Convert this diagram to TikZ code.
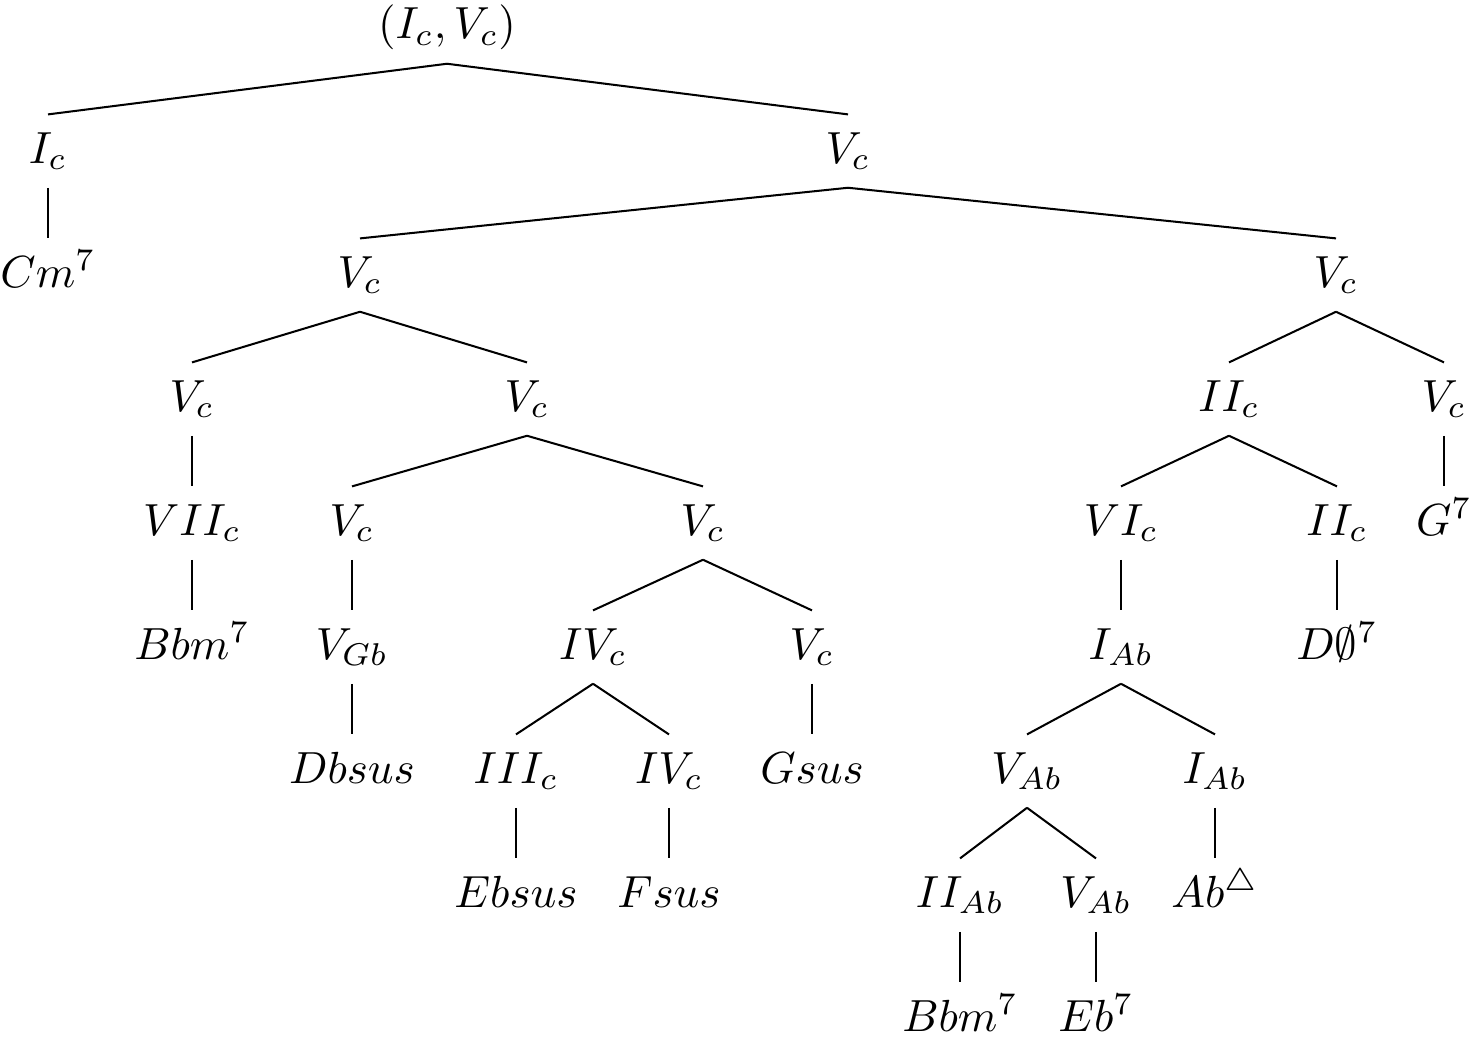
\documentclass[tikz,border=0pt]{standalone}
\begin{document}
\begin{tikzpicture}[x=0.2222pt,y=-0.2222pt,
  lbl/.style={anchor=base,inner sep=0pt,text height=10.6pt,text depth=5.3pt},
  branch/.style={line width=0.45pt}]
\useasboundingbox (0,0) rectangle (1471,1038);

% level 0
\node[lbl] (r) at (447,39) {$(I_c,V_c)$};
% level 1
\node[lbl] (a) at (48,163) {$I_c$};
\node[lbl] (b) at (848,163) {$V_c$};
% level 2
\node[lbl] (a1) at (48,287) {$Cm^7$};
\node[lbl] (b1) at (360,287) {$V_c$};
\node[lbl] (b2) at (1336,287) {$V_c$};
% level 3
\node[lbl] (b1a) at (192,411) {$V_c$};
\node[lbl] (b1b) at (527,411) {$V_c$};
\node[lbl] (b2a) at (1229,411) {$II_c$};
\node[lbl] (b2b) at (1444,411) {$V_c$};
% level 4
\node[lbl] (b1a1) at (192,535) {$VII_c$};
\node[lbl] (b1b1) at (352,535) {$V_c$};
\node[lbl] (b1b2) at (703,535) {$V_c$};
\node[lbl] (b2a1) at (1121,535) {$VI_c$};
\node[lbl] (b2a2) at (1337,535) {$II_c$};
\node[lbl] (b2b1) at (1444,535) {$G^7$};
% level 5
\node[lbl] (c1) at (192,659) {$Bbm^7$};
\node[lbl] (c2) at (352,659) {$V_{Gb}$};
\node[lbl] (c3) at (593,659) {$IV_c$};
\node[lbl] (c4) at (812,659) {$V_c$};
\node[lbl] (c5) at (1121,659) {$I_{Ab}$};
\node[lbl] (c6) at (1337,659) {$D\emptyset^7$};
% level 6
\node[lbl] (d1) at (352,783) {$Dbsus$};
\node[lbl] (d2) at (516,783) {$III_c$};
\node[lbl] (d3) at (669,783) {$IV_c$};
\node[lbl] (d4) at (812,783) {$Gsus$};
\node[lbl] (d5) at (1027,783) {$V_{Ab}$};
\node[lbl] (d6) at (1215,783) {$I_{Ab}$};
% level 7
\node[lbl] (e1) at (516,907) {$Ebsus$};
\node[lbl] (e2) at (669,907) {$Fsus$};
\node[lbl] (e3) at (960,907) {$II_{Ab}$};
\node[lbl] (e4) at (1096,907) {$V_{Ab}$};
\node[lbl] (e5) at (1215,907) {$Ab^{\triangle}$};
% level 8
\node[lbl] (f1) at (960,1031) {$Bbm^7$};
\node[lbl] (f2) at (1096,1031) {$Eb^7$};

% branches
\foreach \p/\c in {r/a, r/b, a/a1, b/b1, b/b2,
  b1/b1a, b1/b1b, b2/b2a, b2/b2b,
  b1a/b1a1, b1b/b1b1, b1b/b1b2, b2a/b2a1, b2a/b2a2, b2b/b2b1,
  b1a1/c1, b1b1/c2, b1b2/c3, b1b2/c4, b2a1/c5, b2a2/c6,
  c2/d1, c3/d2, c3/d3, c4/d4, c5/d5, c5/d6,
  d2/e1, d3/e2, d5/e3, d5/e4, d6/e5,
  e3/f1, e4/f2}
  \draw[branch] (\p.south) -- (\c.north);
\end{tikzpicture}
\end{document}
